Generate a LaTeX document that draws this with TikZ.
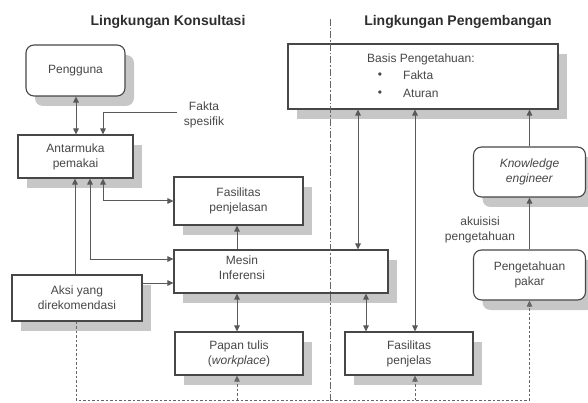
\documentclass[tikz,border=0pt]{standalone}
\usepackage{fontspec}
\setmainfont{Liberation Sans}
\usetikzlibrary{arrows.meta,shadows}
\begin{document}
\begin{tikzpicture}[x=1pt,y=-1pt,
  box/.style={draw=black!72, line width=1.1pt, fill=white,
    drop shadow={shadow xshift=9pt, shadow yshift=-10pt, fill=black!22, opacity=1},
    align=center, font=\fontsize{12}{15}\selectfont, text=black!72, inner sep=0pt},
  rbox/.style={box, rounded corners=8pt},
  lbl/.style={align=center, font=\fontsize{12}{15}\selectfont, text=black!72, inner sep=0pt},
  ttl/.style={font=\fontsize{14}{16}\selectfont\bfseries, text=black!82, inner sep=0pt},
  conn/.style={draw=black!65, line width=1pt},
  tip/.tip={Triangle[length=6pt,width=5.5pt]},
  arr/.style={conn, -tip},
  arrboth/.style={conn, tip-tip},
  dsh/.style={draw=black!60, line width=0.9pt, dash pattern=on 2.5pt off 2pt},
  dashdot/.style={draw=black!60, line width=0.9pt, dash pattern=on 7pt off 2pt on 1.5pt off 2pt}
]
\useasboundingbox (0,0) rectangle (588,403);
% column / row coordinates
\coordinate (c75) at (75,0);
\coordinate (c76) at (76,0);
\coordinate (c90) at (90,0);
\coordinate (c103) at (103,0);
\coordinate (c237) at (237,0);
\coordinate (c358) at (358,0);
\coordinate (c366) at (366,0);
\coordinate (c415) at (415,0);
\coordinate (y259) at (0,259);
\coordinate (y283) at (0,283);
\coordinate (ybot) at (0,400);

% titles
\node[ttl] (t1) at (168,22) {Lingkungan Konsultasi};
\node[ttl] (t2) at (458,22) {Lingkungan Pengembangan};

% boxes
\node[rbox, minimum width=99pt, minimum height=51pt] (peng) at (75.5,70.5) {Pengguna};
\node[box, minimum width=115pt, minimum height=43pt] (anta) at (75.5,156.5) {Antarmuka\\pemakai};
\node[box, minimum width=129pt, minimum height=48pt] (fasp) at (238.5,201) {Fasilitas\\penjelasan};
\node[box, minimum width=214pt, minimum height=43pt] (mesin) at (281,271.5) {};
\node[lbl] (mesintxt) at (242,268) {Mesin\\Inferensi};
\node[box, minimum width=130pt, minimum height=46pt] (aksi) at (77,298) {Aksi yang\\direkomendasi};
\node[box, minimum width=128pt, minimum height=43pt] (papan) at (239,353.5) {Papan tulis\\(\textit{workplace})};
\node[box, minimum width=270pt, minimum height=65pt] (basis) at (423,76.5) {};
\node[lbl, anchor=west] (basist) at (367,59) {Basis Pengetahuan:};
\node[lbl] (b1) at (380,76) {•};
\node[lbl] (b2) at (380,94) {•};
\node[lbl, anchor=west] (fk) at (403,75) {Fakta};
\node[lbl, anchor=west] (at) at (403,93) {Aturan};
\node[rbox, minimum width=112pt, minimum height=50pt] (ke) at (529.5,172) {\textit{Knowledge}\\\textit{engineer}};
\node[rbox, minimum width=112pt, minimum height=50pt] (pakar) at (529.5,275) {Pengetahuan\\pakar};
\node[box, minimum width=128pt, minimum height=43pt] (fpj) at (409,353.5) {Fasilitas\\penjelas};

% free labels
\node[lbl] (fakta) at (204,115) {Fakta\\spesifik};
\node[lbl] (akuisisi) at (480,230) {akuisisi\\pengetahuan};

% connectors
\draw[arrboth] (peng.south -| c76) -- (anta.north -| c76);
\draw[arr] ([xshift=-7pt,yshift=2pt]fakta.west) -| (anta.north -| c103);
\draw[arrboth] (anta.south -| c103) |- (fasp.west);
\draw[arrboth] (anta.south -| c90) |- (mesin.west |- y259);
\draw[arr] (aksi.north -| c75) -- (anta.south -| c75);
\draw[arr] (aksi.east |- y283) -- (mesin.west |- y283);
\draw[arr] (mesin.north -| c237) -- (fasp.south -| c237);
\draw[arrboth] (mesin.south -| c237) -- (papan.north -| c237);
\draw[arrboth] (basis.south -| c358) -- (mesin.north -| c358);
\draw[arrboth] (basis.south -| c415) -- (fpj.north -| c415);
\draw[arrboth] (mesin.south -| c366) -- (fpj.north -| c366);
\draw[arr] (ke.north) -- (basis.south -| ke.north);
\draw[arr] (pakar.north) -- (ke.south);

% dashed feedback
\draw[dsh, -tip] (aksi.south -| c76) |- (pakar.south |- ybot) -- (pakar.south);
\draw[dsh, -tip] (ybot -| c237) -- (papan.south -| c237);
\draw[dsh, -tip] (ybot -| c415) -- (fpj.south -| c415);

% divider
\coordinate (dtop) at (330,19);
\coordinate (dbot) at (330,402);
\draw[dashdot] (dtop) -- (dbot);
\end{tikzpicture}
\end{document}
